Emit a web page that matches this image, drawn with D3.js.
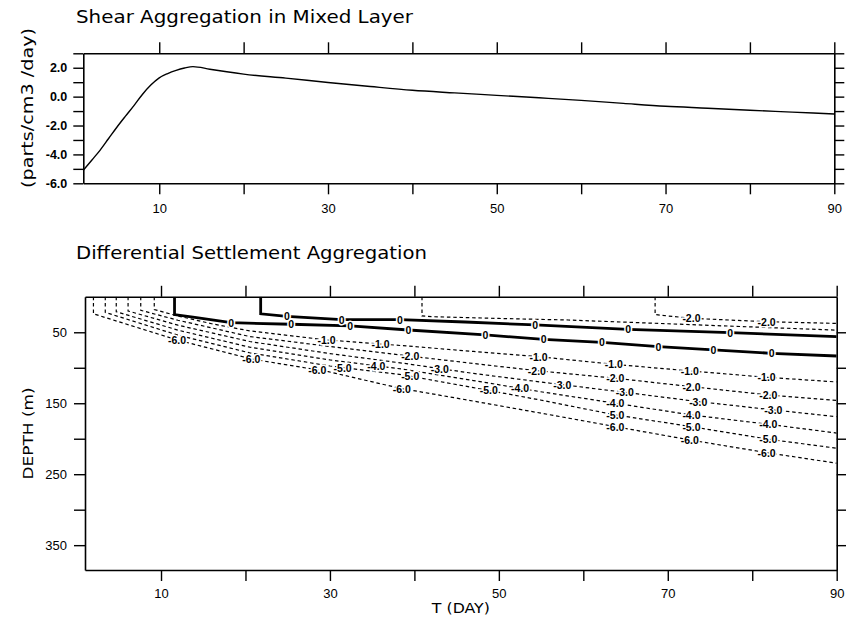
<!DOCTYPE html>
<html><head><meta charset="utf-8">
<script src="https://cdn.jsdelivr.net/npm/d3@7"></script>
<style>
body{margin:0;background:#fff;}
svg{display:block;}
text{font-family:"Liberation Sans",Arial,sans-serif;fill:#000;}
.title{font-family:"DejaVu Sans",sans-serif;}
</style></head><body>
<svg id="c" width="846" height="624"></svg>
<script>
// ---------- data ----------
const shearDays   = [1, 2, 3, 4, 5, 6, 7, 8, 9, 10, 11, 12, 13, 14, 16, 18, 20, 25, 30, 35, 40, 45, 50, 55, 60, 65, 70, 75, 80, 85, 90];
const shearValues = [-5.1, -4.4, -3.7, -2.9, -2.1, -1.35, -0.62, 0.15, 0.8, 1.3, 1.6, 1.82, 1.98, 2.08, 1.9, 1.72, 1.56, 1.28, 0.98, 0.7, 0.44, 0.26, 0.09, -0.08, -0.26, -0.47, -0.67, -0.8, -0.94, -1.07, -1.2];

const dayTicks = [10, 20, 30, 40, 50, 60, 70, 80, 90];
const dayLabels = [10, 30, 50, 70, 90];
const shearTicks = [-6, -5, -4, -3, -2, -1, 0, 1, 2, 3];
const shearLabels = [-6, -4, -2, 0, 2];
const depthTicks = [50, 100, 150, 200, 250, 300, 350];
const depthLabels = [50, 150, 250, 350];

// contour lines: [day, depth (m)]
const zeroLower = [[11.6,0],[11.6,25],[14,29],[18.3,36.5],[25.4,38.7],[32.4,41.1],[39.3,46.8],[48.4,53.8],[55.3,59.9],[62.2,64.1],[68.9,70.3],[75.4,74.9],[82.3,79.6],[90,83.4]];
const zeroUpper = [[21.8,0],[21.8,24],[24.9,27.5],[31.4,32.2],[38.3,32.2],[46,35.5],[54.3,39.7],[65.3,45.8],[77.4,50.6],[90,56]];
const neg1Upper = [[40.9,0],[40.9,27],[42,28],[50,30.5],[58.2,32.7],[70,38],[80,42.5],[90,47]];
const neg2Upper = [[68.5,0],[68.5,25],[70,27],[72.8,30.3],[81.7,35.1],[90,37.5]];
const neg1 = [[9.2,0],[9.2,18],[12,27],[16,38],[20.5,48],[29.6,60.8],[39.1,69.3],[47,77],[54.7,84.4],[63.6,95.1],[72.6,104.5],[81.7,113.4],[90,120]];
const neg2 = [[7.6,0],[7.6,19],[12,33],[20.5,56],[30,70],[39.1,83],[47,94],[54.5,104.1],[63.8,114.8],[72.8,126.6],[81.9,138.3],[90,146]];
const neg3 = [[6.1,0],[6.1,20],[12,40],[20.5,63],[30,80],[38.7,93.7],[47,108],[56.1,121.8],[64.3,133.7],[73.6,147.7],[82.5,159.4],[90,169]];
const neg4 = [[4.7,0],[4.7,21],[12,47],[20.5,71],[30,89],[38.7,102.1],[47,118],[54.9,133.7],[63.8,150],[72.8,166.5],[81.9,179.6],[90,192]];
const neg5 = [[3.4,0],[3.4,22],[12,54],[20.5,79],[30,97.5],[38.7,110.1],[47,128],[54.9,145.4],[63.8,166.5],[72.8,183],[81.9,200.7],[90,213.4]];
const neg6 = [[2,0],[2,24],[11.9,60.8],[20.7,87.6],[29.8,105.5],[38.3,128.9],[47,147],[55,164],[63.8,183],[72.6,201.7],[81.7,219.6],[90,234.5]];

// contour label positions (days along each line)
const zeroLowerLabels = [18.3, 25.4, 32.4, 39.3, 48.4, 55.3, 62.2, 68.9, 75.4, 82.3];
const zeroUpperLabels = [24.9, 31.4, 38.3, 54.3, 65.3, 77.4];
const neg2UpperLabels = [72.8, 81.7];
const neg1Labels = [29.6, 36.0, 54.7, 63.6, 72.6, 81.7];
const neg2Labels = [39.5, 54.5, 63.8, 72.8, 81.9];
const neg3Labels = [43.0, 57.5, 64.9, 73.6, 82.5];
const neg4Labels = [35.5, 52.5, 63.8, 72.8, 81.9];
const neg5Labels = [31.5, 39.5, 48.8, 63.8, 72.8, 81.9];
const neg6Labels = [11.9, 20.7, 28.5, 38.5, 63.8, 72.6, 81.7];

const contours = [
  {pts: zeroLower, level: 0, labels: zeroLowerLabels},
  {pts: zeroUpper, level: 0, labels: zeroUpperLabels},
  {pts: neg1Upper, level: -1, labels: []},
  {pts: neg2Upper, level: -2, labels: neg2UpperLabels},
  {pts: neg1, level: -1, labels: neg1Labels},
  {pts: neg2, level: -2, labels: neg2Labels},
  {pts: neg3, level: -3, labels: neg3Labels},
  {pts: neg4, level: -4, labels: neg4Labels},
  {pts: neg5, level: -5, labels: neg5Labels},
  {pts: neg6, level: -6, labels: neg6Labels}
];

// ---------- drawing ----------
const svg = d3.select("#c");

function styleAxis(g){
  g.selectAll("path.domain").attr("stroke","#000").attr("stroke-width",1.6);
  g.selectAll(".tick line").attr("stroke","#000").attr("stroke-width",1.4);
}

// ===== Top chart =====
const T = {l:83.3, r:834.3, t:53.3, b:183.3};
const xTop = d3.scaleLinear().domain([1,90]).range([T.l, T.r]);
const yTop = d3.scaleLinear().domain([-6,3]).range([T.b, T.t]);

svg.append("text").attr("class","title").attr("x",76).attr("y",23)
  .attr("font-size",17).attr("textLength",337).attr("lengthAdjust","spacingAndGlyphs")
  .text("Shear Aggregation in Mixed Layer");

svg.append("text").attr("class","title")
  .attr("transform","translate(33,108) rotate(-90)")
  .attr("text-anchor","middle").attr("font-size",16)
  .attr("textLength",160).attr("lengthAdjust","spacingAndGlyphs")
  .text("(parts/cm3 /day)");

svg.append("g").attr("transform",`translate(0,${T.b})`)
  .call(d3.axisBottom(xTop).tickValues(dayTicks).tickSize(11).tickSizeOuter(0).tickPadding(9)
    .tickFormat(d => dayLabels.includes(d) ? String(d) : ""))
  .call(styleAxis).call(g => g.selectAll("text").attr("font-size",13));
svg.append("g").attr("transform",`translate(0,${T.t})`)
  .call(d3.axisTop(xTop).tickValues(dayTicks).tickSize(11).tickSizeOuter(0).tickFormat(""))
  .call(styleAxis);
svg.append("g").attr("transform",`translate(${T.l},0)`)
  .call(d3.axisLeft(yTop).tickValues(shearTicks).tickSize(10).tickSizeOuter(0).tickPadding(6)
    .tickFormat(d => shearLabels.includes(d) ? d.toFixed(1) : ""))
  .call(styleAxis).call(g => g.selectAll("text").attr("font-size",12.5).attr("font-weight","bold"));
svg.append("g").attr("transform",`translate(${T.r},0)`)
  .call(d3.axisRight(yTop).tickValues(shearTicks).tickSize(10).tickSizeOuter(0).tickFormat(""))
  .call(styleAxis);

svg.append("path")
  .datum(shearDays.map((d,i)=>[d, shearValues[i]]))
  .attr("fill","none").attr("stroke","#000").attr("stroke-width",1.4)
  .attr("d", d3.line().x(d=>xTop(d[0])).y(d=>yTop(d[1])).curve(d3.curveMonotoneX));

// ===== Bottom chart =====
const B = {l:85, r:836.7, t:296.8, b:570};
const xBot = d3.scaleLinear().domain([1,90]).range([B.l, B.r]);
const yBot = d3.scaleLinear().domain([0,385]).range([B.t, B.b]);

svg.append("text").attr("class","title").attr("x",76).attr("y",259)
  .attr("font-size",17).attr("textLength",351).attr("lengthAdjust","spacingAndGlyphs")
  .text("Differential Settlement Aggregation");

svg.append("text").attr("class","title")
  .attr("transform",`translate(33,${(B.t+B.b)/2}) rotate(-90)`)
  .attr("text-anchor","middle").attr("font-size",14)
  .attr("textLength",92).attr("lengthAdjust","spacingAndGlyphs")
  .text("DEPTH (m)");

svg.append("text").attr("class","title")
  .attr("x",(B.l+B.r)/2).attr("y",613).attr("text-anchor","middle").attr("font-size",14)
  .attr("textLength",58).attr("lengthAdjust","spacingAndGlyphs")
  .text("T (DAY)");

// depth on a contour line at a given day (sloping part of the line)
function depthAt(pts, day){
  for (let i = 1; i < pts.length; i++){
    const a = pts[i-1], b = pts[i];
    if (b[0] > a[0] && day >= a[0] && day <= b[0]){
      return a[1] + (b[1]-a[1]) * (day-a[0]) / (b[0]-a[0]);
    }
  }
  return pts[pts.length-1][1];
}

svg.append("clipPath").attr("id","bclip").append("rect")
  .attr("x",B.l).attr("y",B.t).attr("width",B.r-B.l).attr("height",B.b-B.t);
const cg = svg.append("g").attr("clip-path","url(#bclip)");
const cline = d3.line().x(d=>xBot(d[0])).y(d=>yBot(d[1]));
contours.forEach(c => {
  cg.append("path").datum(c.pts)
    .attr("fill","none").attr("stroke","#000")
    .attr("stroke-width", c.level===0 ? 2.8 : 1.2)
    .attr("stroke-dasharray", c.level===0 ? null : "3.5,2.8")
    .attr("d", cline);
});
contours.forEach(c => {
  c.labels.forEach(day => {
    svg.append("text")
      .attr("x", xBot(day)).attr("y", yBot(depthAt(c.pts, day)))
      .attr("text-anchor","middle").attr("dominant-baseline","central")
      .attr("font-size",10.5).attr("font-weight","bold")
      .attr("stroke","#fff").attr("stroke-width",3).attr("paint-order","stroke")
      .text(c.level===0 ? "0" : c.level.toFixed(1));
  });
});

svg.append("g").attr("transform",`translate(0,${B.b})`)
  .call(d3.axisBottom(xBot).tickValues(dayTicks).tickSize(11).tickSizeOuter(0).tickPadding(8)
    .tickFormat(d => dayLabels.includes(d) ? String(d) : ""))
  .call(styleAxis).call(g => g.selectAll("text").attr("font-size",13));
svg.append("g").attr("transform",`translate(0,${B.t})`)
  .call(d3.axisTop(xBot).tickValues(dayTicks).tickSize(11).tickSizeOuter(0).tickFormat(""))
  .call(styleAxis);
svg.append("g").attr("transform",`translate(${B.l},0)`)
  .call(d3.axisLeft(yBot).tickValues(depthTicks).tickSize(11).tickSizeOuter(0).tickPadding(7)
    .tickFormat(d => depthLabels.includes(d) ? String(d) : ""))
  .call(styleAxis).call(g => g.selectAll("text").attr("font-size",13));
svg.append("g").attr("transform",`translate(${B.r},0)`)
  .call(d3.axisRight(yBot).tickValues(depthTicks).tickSize(11).tickSizeOuter(0).tickFormat(""))
  .call(styleAxis);
</script>
</body></html>
